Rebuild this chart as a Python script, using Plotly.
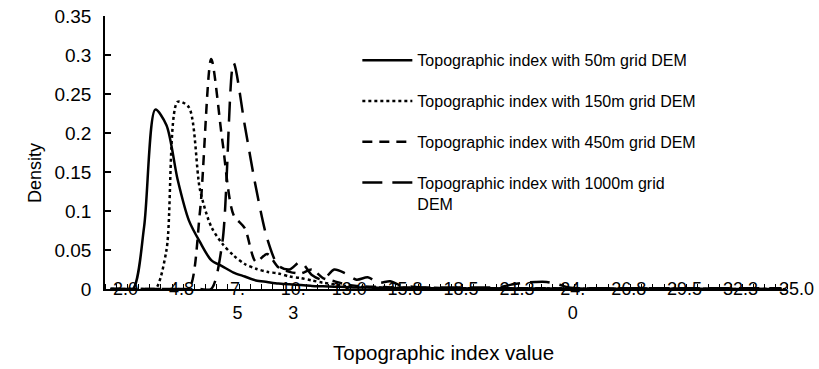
import plotly.graph_objects as go

# Category values (topographic index bins)
index_values = [2.0, 2.55, 3.1, 3.65, 4.2, 4.75, 5.3, 5.85, 6.4, 6.95,
                7.5, 8.05, 8.6, 9.15, 9.7, 10.25, 10.8, 11.35, 11.9, 12.45,
                13.0, 13.55, 14.1, 14.65, 15.2, 15.75, 16.3, 16.85, 17.4, 17.95,
                18.5, 19.05, 19.6, 20.15, 20.7, 21.25, 21.8, 22.35, 22.9, 23.45,
                24.0, 24.55, 25.1, 25.65, 26.2, 26.75, 27.3, 27.85, 28.4, 28.95,
                29.5, 30.05, 30.6, 31.15, 31.7, 32.25, 32.8, 33.35, 33.9, 34.45,
                35.0]

dem_50m = [0, 0, 0, 0.08, 0.23, 0.21, 0.14, 0.088, 0.06, 0.037,
           0.029, 0.021, 0.016, 0.011, 0.009, 0.007, 0.006, 0.005, 0.004, 0.0035,
           0.003, 0.0025, 0.002, 0.002, 0.0015, 0.0015, 0.001, 0.001, 0.001, 0.001,
           0.001, 0.001, 0.0008, 0.0008, 0.0008, 0.0008, 0.0006, 0.0006, 0.0006, 0.0006,
           0.0005, 0.0005, 0.0005, 0.0004, 0.0004, 0.0004, 0.0004, 0.0003, 0.0003, 0.0003,
           0.0003, 0.0002, 0.0002, 0.0002, 0.0002, 0.0001, 0.0001, 0.0001, 0.0001, 0.0001,
           0.0001]

dem_150m = [0, 0, 0, 0, 0, 0.05, 0.24, 0.233, 0.127, 0.08,
            0.058, 0.043, 0.032, 0.026, 0.022, 0.02, 0.016, 0.014, 0.011, 0.008,
            0.006, 0.004, 0.003, 0.0025, 0.002, 0.002, 0.0015, 0.0015, 0.001, 0.001,
            0.001, 0.001, 0.001, 0.0008, 0.0008, 0.0008, 0.0006, 0.0006, 0.0006, 0.0005,
            0.0005, 0.0005, 0.0004, 0.0004, 0.0004, 0.0003, 0.0003, 0.0003, 0.0003, 0.0002,
            0.0002, 0.0002, 0.0002, 0.0002, 0.0001, 0.0001, 0.0001, 0.0001, 0.0001, 0.0001,
            0.0001]

dem_450m = [0, 0, 0, 0, 0, 0, 0, 0, 0.10, 0.295,
            0.19, 0.095, 0.078, 0.035, 0.045, 0.028, 0.022, 0.02, 0.025, 0.014,
            0.01, 0.006, 0.004, 0.003, 0.003, 0.002, 0.002, 0.002, 0.0015, 0.0015,
            0.001, 0.001, 0.001, 0.001, 0.001, 0.001, 0.001, 0.001, 0.001, 0.001,
            0.0008, 0.0008, 0.0008, 0.0006, 0.0006, 0.0006, 0.0005, 0.0005, 0.0005, 0.0004,
            0.0004, 0.0004, 0.0003, 0.0003, 0.0003, 0.0002, 0.0002, 0.0002, 0.0001, 0.0001,
            0.0001]

dem_1000m = [0, 0, 0, 0, 0, 0, 0, 0, 0, 0,
             0.06, 0.29, 0.21, 0.13, 0.065, 0.03, 0.025, 0.035, 0.018, 0.012,
             0.025, 0.02, 0.012, 0.015, 0.008, 0.01, 0.004, 0.003, 0.002, 0.002,
             0.002, 0.002, 0.002, 0.002, 0.002, 0.003, 0.006, 0.008, 0.009, 0.009,
             0.006, 0.002, 0.001, 0.001, 0.001, 0.001, 0.001, 0.001, 0.001, 0.001,
             0.001, 0.001, 0.001, 0.001, 0.001, 0.001, 0.001, 0.001, 0.001, 0.001,
             0.001]

series_names = ["Topographic index with 50m grid DEM",
                "Topographic index with 150m grid DEM",
                "Topographic index with 450m grid DEM",
                "Topographic index with 1000m grid<br>DEM"]

tick_values = [2.0, 4.75, 7.5, 10.25, 13.0, 15.75, 18.5, 21.25, 24.0, 26.75, 29.5, 32.25, 35.0]
tick_labels = ["2.0", "4.8", "7.<br>5", "10.<br>3", "13.0", "15.8", "18.5", "21.3",
               "24.<br>0", "26.8", "29.5", "32.3", "35.0"]

FONT = "Arial, Liberation Sans, sans-serif"

fig = go.Figure()
styles = [("solid", dem_50m), ("3px,3px", dem_150m), ("10px,7px", dem_450m), ("20px,10px", dem_1000m)]
for k, (dash, vals) in enumerate(styles):
    fig.add_trace(go.Scatter(
        x=index_values, y=vals, mode="lines", name=series_names[k],
        legendgroup=f"g{k}",
        line=dict(color="black", width=2.5, dash=dash, shape="spline", smoothing=0.8),
    ))

fig.update_layout(
    width=819, height=369,
    margin=dict(l=105, r=32, t=16, b=80, autoexpand=False),
    paper_bgcolor="white", plot_bgcolor="white",
    font=dict(family=FONT, color="black", size=18),
    showlegend=True,
    legend=dict(x=0.37, y=0.9, xanchor="left", yanchor="top",
                font=dict(size=16, family=FONT, color="black"),
                itemwidth=50,
                tracegroupgap=17, valign="top", bgcolor="rgba(0,0,0,0)"),
    annotations=[
        dict(text="Topographic index value", x=0.496, y=-0.231, xref="paper", yref="paper",
             showarrow=False, font=dict(size=20.5, family=FONT, color="black"),
             xanchor="center", yanchor="middle"),
        dict(text="Density", x=-0.1026, y=0.425, xref="paper", yref="paper",
             showarrow=False, textangle=-90, font=dict(size=18, family=FONT, color="black"),
             xanchor="center", yanchor="middle"),
    ],
)

fig.update_xaxes(
    automargin=False, ticklabeloverflow="allow",
    range=[1.725, 35.275], showline=True, linecolor="black", linewidth=1.5,
    tickmode="array", tickvals=tick_values, ticktext=tick_labels, ticks="",
    ticklabelshift=15, ticklabelstandoff=-17,
    tickfont=dict(size=18, family=FONT, color="black"),
    minor=dict(tickmode="linear", tick0=1.725, dtick=0.55, ticks="inside", ticklen=5,
               tickcolor="black", tickwidth=1, showgrid=False),
    showgrid=False, zeroline=False,
)
fig.update_yaxes(
    automargin=False, ticklabeloverflow="allow",
    range=[0, 0.35], dtick=0.05, tick0=0, showline=True, linecolor="black", linewidth=1.5,
    ticks="inside", ticklen=6, tickcolor="black", tickwidth=1.5,
    ticklabelstandoff=8,
    tickfont=dict(size=19, family=FONT, color="black"),
    showgrid=False, zeroline=False,
)

fig.write_html("out.html", config={"displayModeBar": False},
               post_script="document.body.style.margin='0';document.body.style.padding='0';")
